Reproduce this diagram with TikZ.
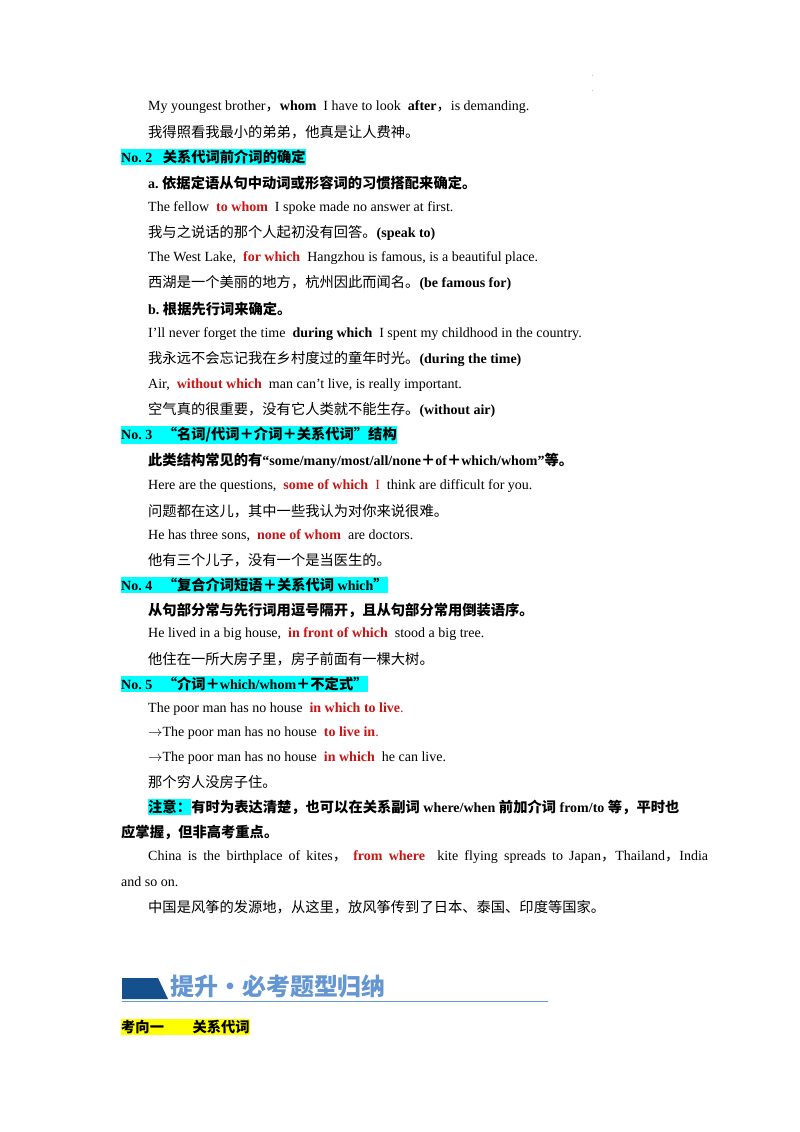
\documentclass[tikz,border=0pt]{standalone}
\usepackage{fontspec}
\setmainfont{Liberation Serif}
\newfontfamily\cjk{Noto Sans CJK SC}[Scale=1.02]
\definecolor{rd}{RGB}{200,20,20}
\definecolor{hl}{RGB}{0,255,255}
\definecolor{yl}{RGB}{255,255,0}
\definecolor{ban}{RGB}{22,80,140}
\definecolor{banl}{RGB}{100,150,210}
\newcommand{\zh}[1]{{\cjk #1}}
\newcommand{\rr}[1]{\textcolor{rd}{\textbf{#1}}}
\begin{document}
\begin{tikzpicture}[x=1pt,y=-1pt,
  t/.style={anchor=west,inner sep=0pt,font=\fontsize{14}{15}\selectfont},
  h/.style={t,fill=hl,inner ysep=1.5pt,font=\fontsize{14}{15}\selectfont\bfseries},
  hy/.style={t,fill=yl,inner ysep=1.5pt,font=\fontsize{14}{15}\selectfont\bfseries}]
\useasboundingbox (0,0) rectangle (800,1132);
\node[t,font=\tiny] (d1) at (592,76) {.};
\node[t,font=\tiny] (d2) at (592,91) {.};
\node[t] (l1) at (148,107) {My youngest brother\zh{，}\textbf{whom}\ \ I have to look\ \ \textbf{after}\zh{，}is demanding.};
\node[t] (l2) at (148,132) {\zh{我得照看我最小的弟弟，他真是让人费神。}};
\node[h] (n2) at (121,157) {No.\ 2\ \ \ \zh{\bfseries 关系代词前介词的确定}};
\node[t] (l3) at (148,183) {\textbf{a.}\ \zh{\bfseries 依据定语从句中动词或形容词的习惯搭配来确定。}};
\node[t] (l4) at (148,208) {The fellow\ \ \rr{to whom}\ \ I spoke made no answer at first.};
\node[t] (l5) at (148,233) {\zh{我与之说话的那个人起初没有回答。}\textbf{(speak to)}};
\node[t] (l6) at (148,258) {The West Lake,\ \ \rr{for which}\ \ Hangzhou is famous, is a beautiful place.};
\node[t] (l7) at (148,283) {\zh{西湖是一个美丽的地方，杭州因此而闻名。}\textbf{(be famous for)}};
\node[t] (l8) at (148,309) {\textbf{b.}\ \zh{\bfseries 根据先行词来确定。}};
\node[t] (l9) at (148,334) {I'll never forget the time\ \ \textbf{during which}\ \ I spent my childhood in the country.};
\node[t] (l10) at (148,359) {\zh{我永远不会忘记我在乡村度过的童年时光。}\textbf{(during the time)}};
\node[t] (l11) at (148,385) {Air,\ \ \rr{without which}\ \ man can't live, is really important.};
\node[t] (l12) at (148,410) {\zh{空气真的很重要，没有它人类就不能生存。}\textbf{(without air)}};
\node[h] (n3) at (121,435) {No.\ 3\ \ \ \zh{\bfseries “名词/代词＋介词＋关系代词”结构}};
\node[t] (l13) at (148,461) {\zh{\bfseries 此类结构常见的有}\textbf{“some/many/most/all/none\zh{＋}of\zh{＋}which/whom”}\zh{\bfseries 等。}};
\node[t] (l14) at (148,486) {Here are the questions,\ \ \rr{some of which}\ \ \textcolor{rd}{I}\ \ think are difficult for you.};
\node[t] (l15) at (148,511) {\zh{问题都在这儿，其中一些我认为对你来说很难。}};
\node[t] (l16) at (148,536) {He has three sons,\ \ \rr{none of whom}\ \ are doctors.};
\node[t] (l17) at (148,560) {\zh{他有三个儿子，没有一个是当医生的。}};
\node[h] (n4) at (121,585) {No.\ 4\ \ \ \zh{\bfseries “复合介词短语＋关系代词}\ which\zh{\bfseries ”}};
\node[t] (l18) at (148,610) {\zh{\bfseries 从句部分常与先行词用逗号隔开，且从句部分常用倒装语序。}};
\node[t] (l19) at (148,634) {He lived in a big house,\ \ \rr{in front of which}\ \ stood a big tree.};
\node[t] (l20) at (148,659) {\zh{他住在一所大房子里，房子前面有一棵大树。}};
\node[h] (n5) at (121,684) {No.\ 5\ \ \ \zh{\bfseries “介词＋}which/whom\zh{\bfseries ＋不定式”}};
\node[t] (l21) at (148,709) {The poor man has no house\ \ \rr{in which to live}\textcolor{rd}{.}};
\node[t] (l22) at (148,733) {$\rightarrow$The poor man has no house\ \ \rr{to live in}\textcolor{rd}{.}};
\node[t] (l23) at (148,758) {$\rightarrow$The poor man has no house\ \ \rr{in which}\ \ he can live.};
\node[t] (l24) at (148,782) {\zh{那个穷人没房子住。}};
\node[t,fill=hl,inner ysep=1.5pt] (l25a) at (148,807) {\zh{\bfseries 注意：}};
\node[t] (l25) at (l25a.east) {\zh{\bfseries 有时为表达清楚，也可以在关系副词}\textbf{ where/when }\zh{\bfseries 前加介词}\textbf{ from/to }\zh{\bfseries 等，平时也}};
\node[t] (l26) at (121,832) {\zh{\bfseries 应掌握，但非高考重点。}};
\node[t] (l27) at (148,857) {\makebox[560pt][s]{China is the birthplace of kites\zh{，}\ \rr{from where}\ \ kite flying spreads to Japan\zh{，}Thailand\zh{，}India}};
\node[t] (l28) at (121,882) {and so on.};
\node[t] (l29) at (148,907) {\zh{中国是风筝的发源地，从这里，放风筝传到了日本、泰国、印度等国家。}};
% banner
\fill[ban] (122,978) -- (158,978) -- (168,999) -- (122,999) -- cycle;
\draw[banl,line width=0.8pt] (122,1001) -- (548,1001);
\node[anchor=west,inner sep=0pt,text=banl,font=\fontsize{23.5}{25}\selectfont\cjk\bfseries] (ban) at (170,986) {提升·必考题型归纳};
\node[hy] (k1) at (121,1027) {\zh{\bfseries 考向一\qquad 关系代词}};
\end{tikzpicture}
\end{document}
